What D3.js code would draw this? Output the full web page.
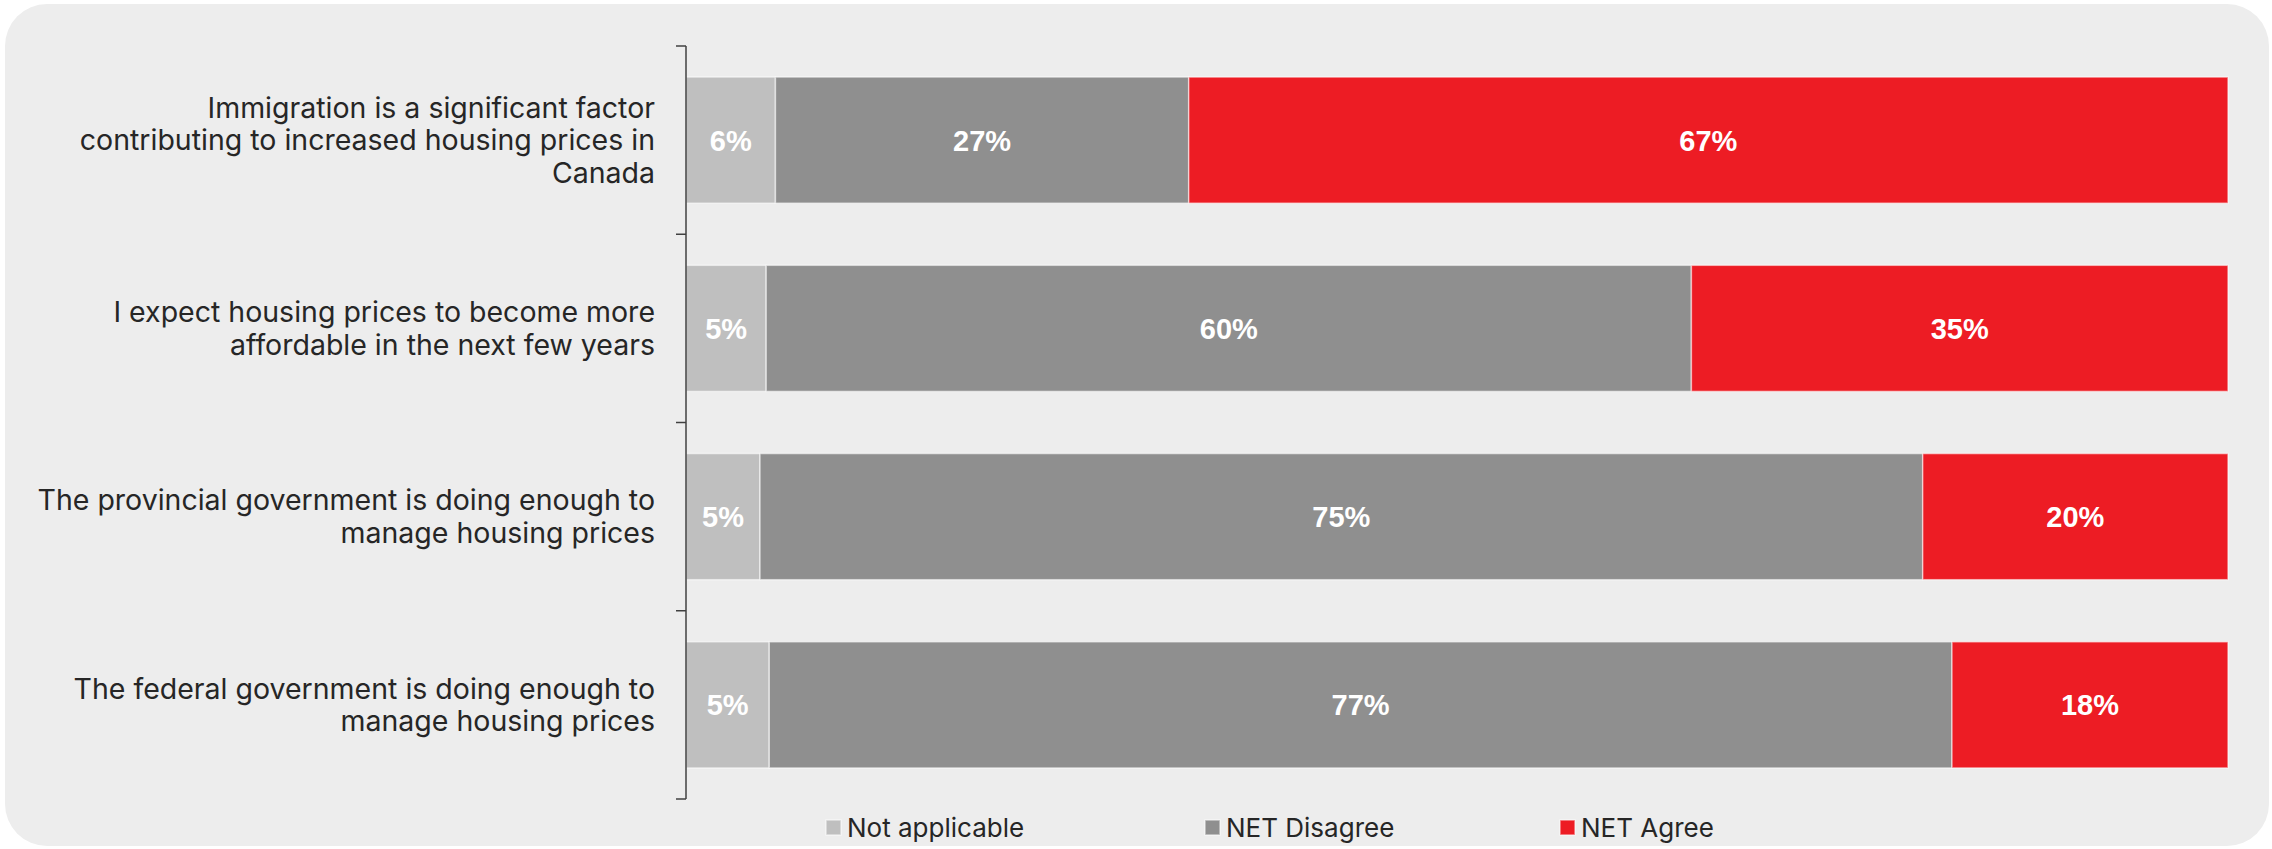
<!DOCTYPE html>
<html>
<head>
<meta charset="utf-8">
<script src="https://cdn.jsdelivr.net/npm/d3@7"></script>
<style>
  body { margin: 0; background: #ffffff; }
</style>
</head>
<body>
<div class="chart"></div>
<script>
var categories = [
    ["Immigration is a significant factor", "contributing to increased housing prices in", "Canada"],
    ["I expect housing prices to become more", "affordable in the next few years"],
    ["The provincial government is doing enough to", "manage housing prices"],
    ["The federal government is doing enough to", "manage housing prices"]
];
var seriesNames = ["Not applicable", "NET Disagree", "NET Agree"];
var notApplicable = [5.8, 5.2, 4.8, 5.4];
var netDisagree = [26.8, 60.0, 75.4, 76.7];
var netAgree = [67.4, 34.8, 19.8, 17.9];
var colors = ["#bfbfbf", "#8f8f8f", "#ed1c24"];

var svgWidth = 2272;
var svgHeight = 849;

var svg = d3.select('div.chart')
    .append('svg')
    .attr('width', svgWidth)
    .attr('height', svgHeight)
    .style('display', 'block');

// panel
svg.append('rect')
    .attr('x', 5)
    .attr('y', 4)
    .attr('width', 2264)
    .attr('height', 842)
    .attr('rx', 42)
    .attr('ry', 42)
    .style('fill', '#ededed');

var dataset = categories.map(function (c, i) {
    return { id: i, lines: c, na: notApplicable[i], dis: netDisagree[i], agr: netAgree[i] };
});

var stack = d3.stack().keys(['na', 'dis', 'agr']);
var layers = stack(dataset);

var x = d3.scaleLinear()
    .domain([0, 100])
    .range([686, 2228]);

var y = d3.scaleBand()
    .domain(dataset.map(function (d) { return d.id; }))
    .range([46, 799])
    .paddingInner(0.33)
    .paddingOuter(0.165);

var layer = svg.append('g')
    .selectAll('g')
    .data(layers)
    .enter()
    .append('g')
    .style('fill', function (d, i) { return colors[i]; });

layer.selectAll('rect')
    .data(function (d) { return d; })
    .enter()
    .append('rect')
    .attr('x', function (d) { return x(d[0]); })
    .attr('y', function (d) { return y(d.data.id); })
    .attr('width', function (d) { return x(d[1]) - x(d[0]); })
    .attr('height', y.bandwidth())
    .style('stroke', 'rgba(255,255,255,0.55)')
    .style('stroke-width', 1.5);

layer.selectAll('text')
    .data(function (d) { return d; })
    .enter()
    .append('text')
    .attr('x', function (d) { return (x(d[0]) + x(d[1])) / 2; })
    .attr('y', function (d) { return y(d.data.id) + y.bandwidth() / 2; })
    .attr('dy', '0.36em')
    .attr('text-anchor', 'middle')
    .style('fill', '#ffffff')
    .style('font-family', '"Liberation Sans", Arial, sans-serif')
    .style('font-weight', 'bold')
    .style('font-size', '29px')
    .text(function (d) { return Math.round(d[1] - d[0]) + '%'; });

// category axis with ticks between bands
var axisG = svg.append('g');
axisG.append('line')
    .attr('x1', x(0)).attr('x2', x(0))
    .attr('y1', y.range()[0]).attr('y2', y.range()[1])
    .style('stroke', '#404040')
    .style('stroke-width', 1.5);

var tickPos = [y.range()[0]];
dataset.forEach(function (d) {
    tickPos.push(y(d.id) + y.bandwidth() + y.step() * y.paddingInner() / 2);
});
tickPos[tickPos.length - 1] = y.range()[1];

axisG.selectAll('line.tick')
    .data(tickPos)
    .enter()
    .append('line')
    .attr('class', 'tick')
    .attr('x1', x(0) - 10).attr('x2', x(0))
    .attr('y1', function (d) { return d; })
    .attr('y2', function (d) { return d; })
    .style('stroke', '#404040')
    .style('stroke-width', 1.5);

var labels = svg.append('g')
    .selectAll('text')
    .data(dataset)
    .enter()
    .append('text')
    .attr('x', 655)
    .attr('y', function (d) {
        return y(d.id) + y.bandwidth() / 2 - (d.lines.length - 1) * 32.5 / 2;
    })
    .attr('text-anchor', 'end')
    .style('fill', '#262626')
    .style('font-family', 'Inter, Roboto, sans-serif')
    .style('font-size', '28.5px');

labels.selectAll('tspan')
    .data(function (d) { return d.lines; })
    .enter()
    .append('tspan')
    .attr('x', 655)
    .attr('dy', function (d, i) { return i == 0 ? '0.35em' : '32.5px'; })
    .text(function (d) { return d; });

// legend
var legendX = [826, 1205, 1560];
var legend = svg.append('g')
    .selectAll('g')
    .data(seriesNames)
    .enter()
    .append('g')
    .attr('transform', function (d, i) { return 'translate(' + legendX[i] + ',828)'; });

legend.append('rect')
    .attr('x', 0)
    .attr('y', -8)
    .attr('width', 15)
    .attr('height', 15)
    .style('fill', function (d, i) { return colors[i]; })
    .style('stroke', 'rgba(255,255,255,0.55)')
    .style('stroke-width', 1.5);

legend.append('text')
    .attr('x', 21)
    .attr('y', 0)
    .attr('dy', '0.35em')
    .style('fill', '#262626')
    .style('font-family', 'Inter, Roboto, sans-serif')
    .style('font-size', '26px')
    .text(function (d) { return d; });
</script>
</body>
</html>
